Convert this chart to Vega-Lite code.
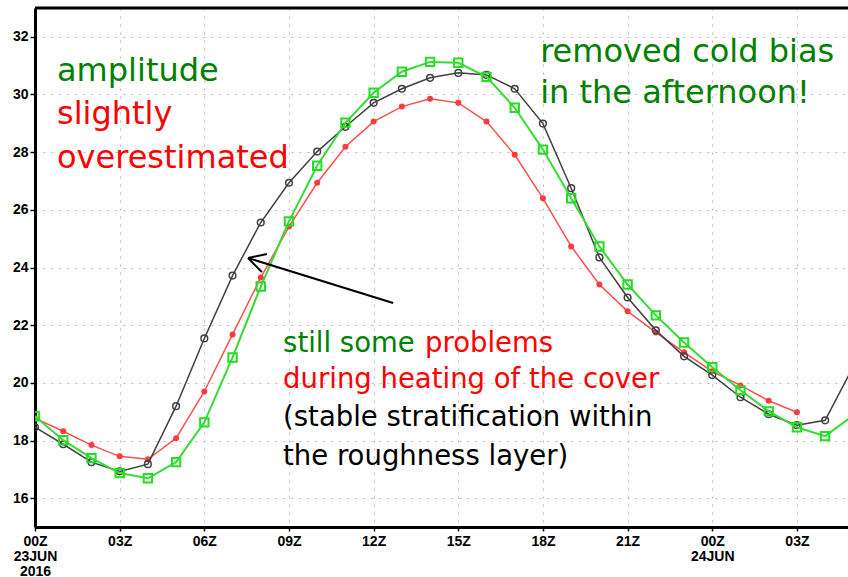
{
  "$schema": "https://vega.github.io/schema/vega-lite/v6.json",
  "width": 813,
  "height": 519,
  "autosize": "none",
  "padding": {"left": 35, "top": 8, "right": 0, "bottom": 50},
  "background": "white",
  "config": {"view": {"stroke": null}, "font": "DejaVu Sans"},
  "datasets": {
    "series": [
      {"s": "b", "h": 0, "v": 18.46}, {"s": "b", "h": 1, "v": 17.87}, {"s": "b", "h": 2, "v": 17.25}, {"s": "b", "h": 3, "v": 16.93},
      {"s": "b", "h": 4, "v": 17.18}, {"s": "b", "h": 5, "v": 19.19}, {"s": "b", "h": 6, "v": 21.54}, {"s": "b", "h": 7, "v": 23.72},
      {"s": "b", "h": 8, "v": 25.56}, {"s": "b", "h": 9, "v": 26.94}, {"s": "b", "h": 10, "v": 28.02}, {"s": "b", "h": 11, "v": 28.88},
      {"s": "b", "h": 12, "v": 29.71}, {"s": "b", "h": 13, "v": 30.2}, {"s": "b", "h": 14, "v": 30.58}, {"s": "b", "h": 15, "v": 30.75},
      {"s": "b", "h": 16, "v": 30.68}, {"s": "b", "h": 17, "v": 30.2}, {"s": "b", "h": 18, "v": 28.99}, {"s": "b", "h": 19, "v": 26.75},
      {"s": "b", "h": 20, "v": 24.35}, {"s": "b", "h": 21, "v": 22.96}, {"s": "b", "h": 22, "v": 21.82}, {"s": "b", "h": 23, "v": 20.92},
      {"s": "b", "h": 24, "v": 20.27}, {"s": "b", "h": 25, "v": 19.5}, {"s": "b", "h": 26, "v": 18.91}, {"s": "b", "h": 27, "v": 18.53},
      {"s": "b", "h": 28, "v": 18.7}, {"s": "b", "h": 29, "v": 20.57},
      {"s": "r", "h": 0, "v": 18.77}, {"s": "r", "h": 1, "v": 18.32}, {"s": "r", "h": 2, "v": 17.84}, {"s": "r", "h": 3, "v": 17.45},
      {"s": "r", "h": 4, "v": 17.35}, {"s": "r", "h": 5, "v": 18.08}, {"s": "r", "h": 6, "v": 19.7}, {"s": "r", "h": 7, "v": 21.68},
      {"s": "r", "h": 8, "v": 23.65}, {"s": "r", "h": 9, "v": 25.42}, {"s": "r", "h": 10, "v": 26.94}, {"s": "r", "h": 11, "v": 28.19},
      {"s": "r", "h": 12, "v": 29.06}, {"s": "r", "h": 13, "v": 29.58}, {"s": "r", "h": 14, "v": 29.85}, {"s": "r", "h": 15, "v": 29.71},
      {"s": "r", "h": 16, "v": 29.06}, {"s": "r", "h": 17, "v": 27.91}, {"s": "r", "h": 18, "v": 26.4}, {"s": "r", "h": 19, "v": 24.73},
      {"s": "r", "h": 20, "v": 23.41}, {"s": "r", "h": 21, "v": 22.48}, {"s": "r", "h": 22, "v": 21.75}, {"s": "r", "h": 23, "v": 21.06},
      {"s": "r", "h": 24, "v": 20.4}, {"s": "r", "h": 25, "v": 19.91}, {"s": "r", "h": 26, "v": 19.38}, {"s": "r", "h": 27, "v": 18.98},
      {"s": "g", "h": 0, "v": 18.84}, {"s": "g", "h": 1, "v": 18.01}, {"s": "g", "h": 2, "v": 17.39}, {"s": "g", "h": 3, "v": 16.87},
      {"s": "g", "h": 4, "v": 16.69}, {"s": "g", "h": 5, "v": 17.25}, {"s": "g", "h": 6, "v": 18.63}, {"s": "g", "h": 7, "v": 20.88},
      {"s": "g", "h": 8, "v": 23.34}, {"s": "g", "h": 9, "v": 25.6}, {"s": "g", "h": 10, "v": 27.53}, {"s": "g", "h": 11, "v": 29.02},
      {"s": "g", "h": 12, "v": 30.06}, {"s": "g", "h": 13, "v": 30.79}, {"s": "g", "h": 14, "v": 31.13}, {"s": "g", "h": 15, "v": 31.1},
      {"s": "g", "h": 16, "v": 30.61}, {"s": "g", "h": 17, "v": 29.54}, {"s": "g", "h": 18, "v": 28.09}, {"s": "g", "h": 19, "v": 26.4},
      {"s": "g", "h": 20, "v": 24.73}, {"s": "g", "h": 21, "v": 23.41}, {"s": "g", "h": 22, "v": 22.34}, {"s": "g", "h": 23, "v": 21.4},
      {"s": "g", "h": 24, "v": 20.54}, {"s": "g", "h": 25, "v": 19.74}, {"s": "g", "h": 26, "v": 19.01}, {"s": "g", "h": 27, "v": 18.46},
      {"s": "g", "h": 28, "v": 18.15}, {"s": "g", "h": 29, "v": 18.87}
    ],
    "bigNotes": [
      {"h": 0.78, "v": 30.47, "t": "amplitude", "tone": "green"},
      {"h": 0.78, "v": 28.98, "t": "slightly", "tone": "red"},
      {"h": 0.78, "v": 27.45, "t": "overestimated", "tone": "red"},
      {"h": 17.9, "v": 31.13, "t": "removed cold bias", "tone": "green"},
      {"h": 17.9, "v": 29.7, "t": "in the afternoon!", "tone": "green"}
    ],
    "smallNotes": [
      {"h": 8.79, "v": 21.07, "t": "still some", "tone": "green"},
      {"h": 13.82, "v": 21.07, "t": "problems", "tone": "red"},
      {"h": 8.79, "v": 19.82, "t": "during heating of the cover", "tone": "red"},
      {"h": 8.79, "v": 18.5, "t": "(stable stratification within", "tone": "black"},
      {"h": 8.79, "v": 17.15, "t": "the roughness layer)", "tone": "black"}
    ],
    "arrow": [
      {"h": 12.69, "v": 22.77, "h2": 7.55, "v2": 24.33},
      {"h": 7.55, "v": 24.33, "h2": 8.22, "v2": 24.47},
      {"h": 7.55, "v": 24.33, "h2": 8.04, "v2": 23.84}
    ],
    "frameTop": [
      {"h": 0, "v": 33, "h2": 28.81, "v2": 33}
    ]
  },
  "encoding": {
    "x": {
      "field": "h", "type": "quantitative",
      "scale": {"domain": [0, 28.81], "nice": false, "zero": false},
      "axis": {
        "values": [0, 3, 6, 9, 12, 15, 18, 21, 24, 27],
        "labelExpr": "datum.value == 0 ? ['00Z','23JUN','2016'] : datum.value == 24 ? ['00Z','24JUN'] : ((datum.value % 24) < 10 ? '0' : '') + (datum.value % 24) + 'Z'",
        "grid": true, "gridDash": [2, 6], "gridColor": "#b8b8b8", "gridWidth": 1,
        "domainColor": "black", "domainWidth": 3,
        "tickColor": "black", "tickSize": 4, "tickWidth": 1.5,
        "labelFont": "Liberation Sans", "labelFontWeight": "bold", "labelFontSize": 14,
        "labelColor": "black", "labelPadding": 3, "labelLineHeight": 15,
        "labelFlush": false, "labelOverlap": false, "title": null
      }
    },
    "y": {
      "field": "v", "type": "quantitative",
      "scale": {"domain": [15, 33], "nice": false, "zero": false},
      "axis": {
        "values": [16, 18, 20, 22, 24, 26, 28, 30, 32],
        "grid": true, "gridDash": [2, 6], "gridColor": "#b8b8b8", "gridWidth": 1,
        "domainColor": "black", "domainWidth": 3,
        "tickColor": "black", "tickSize": 5, "tickWidth": 1.5,
        "labelFont": "Liberation Sans", "labelFontWeight": "bold", "labelFontSize": 14,
        "labelColor": "black", "labelPadding": 2, "title": null
      }
    }
  },
  "layer": [
    {
      "data": {"name": "frameTop"},
      "mark": {"type": "rule", "color": "black", "strokeWidth": 3},
      "encoding": {"x2": {"field": "h2"}, "y2": {"field": "v2"}}
    },
    {
      "data": {"name": "series"},
      "transform": [{"filter": "datum.s == 'r'"}],
      "mark": {"type": "line", "color": "#ff4f4f", "strokeWidth": 1.5, "clip": true,
        "point": {"shape": "circle", "filled": true, "size": 36, "color": "#ff3c3c"}}
    },
    {
      "data": {"name": "series"},
      "transform": [{"filter": "datum.s == 'b'"}],
      "mark": {"type": "line", "color": "#404040", "strokeWidth": 1.5, "clip": true,
        "point": {"shape": "circle", "filled": false, "size": 45, "strokeWidth": 1.5, "color": "#404040"}}
    },
    {
      "data": {"name": "series"},
      "transform": [{"filter": "datum.s == 'g'"}],
      "mark": {"type": "line", "color": "#33dd33", "strokeWidth": 2, "clip": true,
        "point": {"shape": "square", "filled": false, "size": 70, "strokeWidth": 2, "color": "#22dd22"}}
    },
    {
      "data": {"name": "arrow"},
      "mark": {"type": "rule", "color": "black", "strokeWidth": 2},
      "encoding": {"x2": {"field": "h2"}, "y2": {"field": "v2"}}
    },
    {
      "data": {"name": "bigNotes"},
      "mark": {"type": "text", "align": "left", "baseline": "alphabetic", "font": "DejaVu Sans", "fontSize": 32},
      "encoding": {
        "text": {"field": "t"},
        "color": {"field": "tone", "type": "nominal", "scale": {"domain": ["green", "red", "black"], "range": ["#008000", "#ff0000", "#000000"]}, "legend": null}
      }
    },
    {
      "data": {"name": "smallNotes"},
      "mark": {"type": "text", "align": "left", "baseline": "alphabetic", "font": "DejaVu Sans", "fontSize": 27.5},
      "encoding": {
        "text": {"field": "t"},
        "color": {"field": "tone", "type": "nominal", "scale": {"domain": ["green", "red", "black"], "range": ["#008000", "#ff0000", "#000000"]}, "legend": null}
      }
    }
  ]
}
